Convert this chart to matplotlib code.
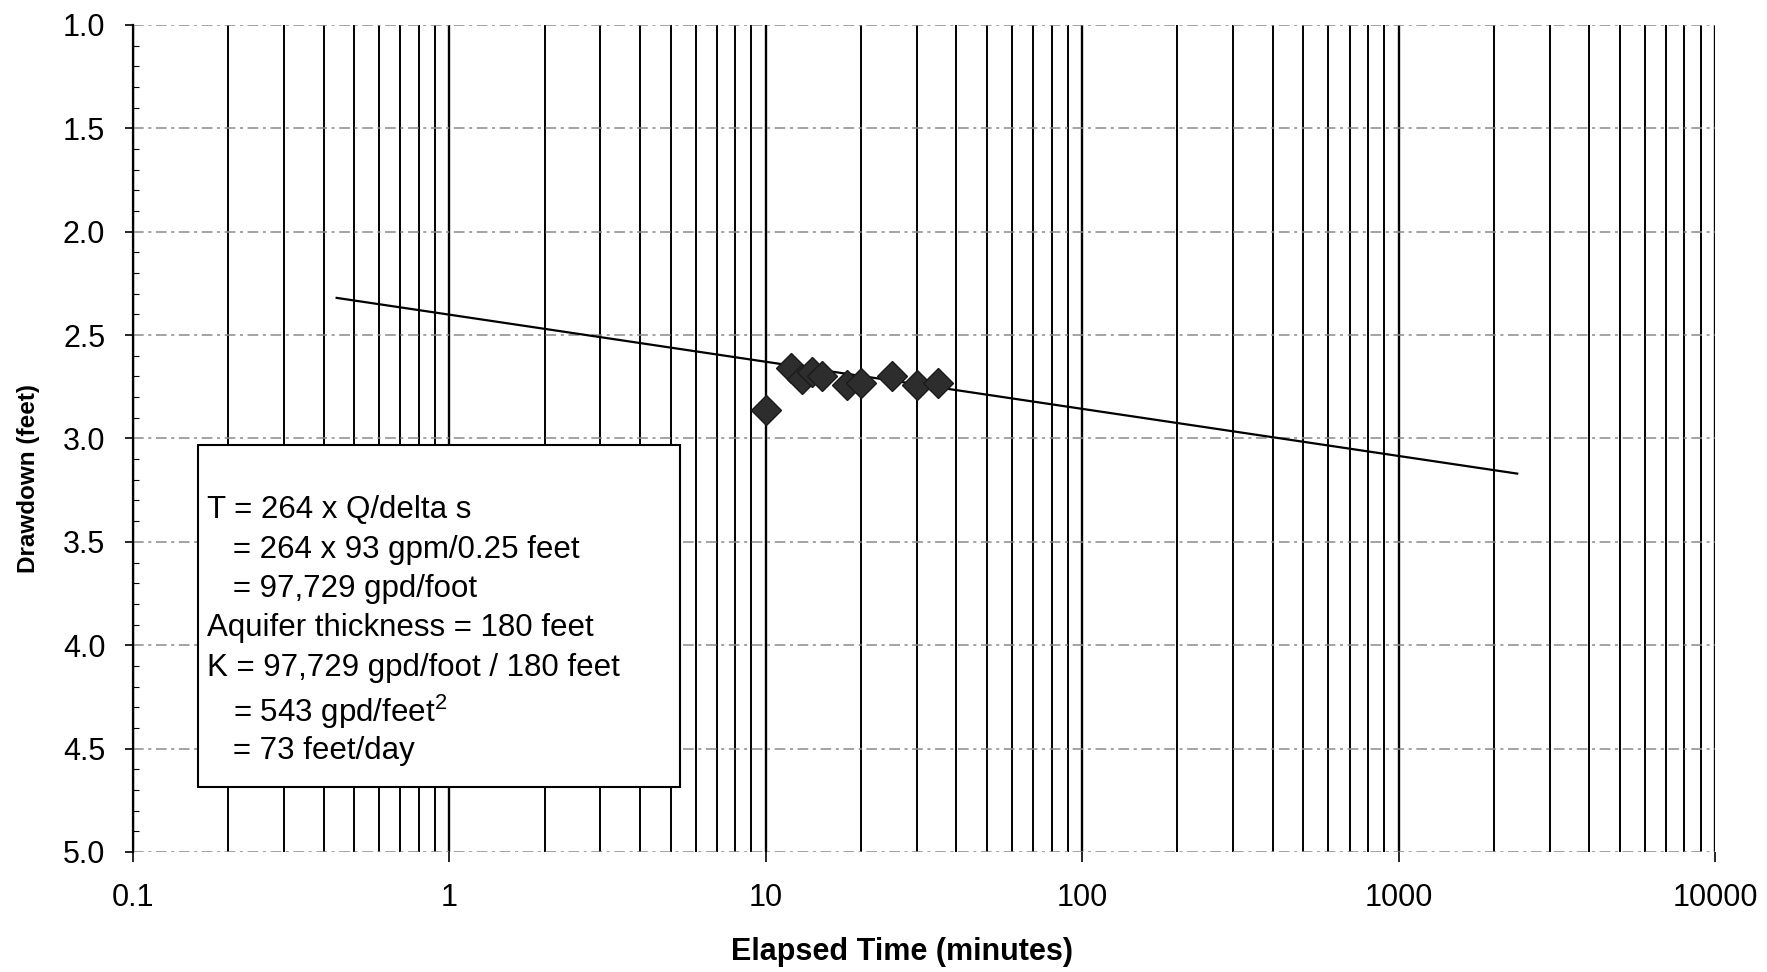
import numpy as np
import matplotlib.pyplot as plt
from matplotlib.patches import Rectangle
from matplotlib.ticker import FormatStrFormatter, MultipleLocator, LogLocator

plt.rcParams['font.family'] = ['Liberation Sans', 'DejaVu Sans']
plt.rcParams['mathtext.fontset'] = 'custom'
plt.rcParams['mathtext.rm'] = 'Liberation Sans'

# --- veri ---
elapsed_min = [10, 12, 13, 14, 15, 18, 20, 25, 30, 35]
drawdown_ft = [2.86, 2.66, 2.71, 2.68, 2.70, 2.74, 2.73, 2.70, 2.74, 2.73]

# egim dogrusu (uc noktalar)
fit_t = [0.44, 2370]
fit_s = [2.32, 3.17]

x_ticks = [0.1, 1, 10, 100, 1000, 10000]
x_labels = ['0.1', '1', '10', '100', '1000', '10000']

note_lines = [
    'T = 264 x Q/delta s',
    '   = 264 x 93 gpm/0.25 feet',
    '   = 97,729 gpd/foot',
    'Aquifer thickness = 180 feet',
    'K = 97,729 gpd/foot / 180 feet',
    '   = 543 gpd/feet$^2$',
    '   = 73 feet/day',
]

fig = plt.figure(figsize=(17.67, 9.72), dpi=100)
ax = fig.add_axes([0.0753, 0.1235, 0.8953, 0.8508])

ax.set_xscale('log')
ax.set_xlim(0.1, 10000)
ax.set_ylim(5.0, 1.0)

# dikey cizgiler: tum log cizgileri siyah
ax.xaxis.set_minor_locator(LogLocator(base=10, subs=np.arange(2, 10)))
ax.grid(which='major', axis='x', color='black', lw=1.7, zorder=0.5)
ax.grid(which='minor', axis='x', color='black', lw=1.4, zorder=0.5)
# yatay cizgiler: kesikli gri
ax.yaxis.set_major_locator(MultipleLocator(0.5))
ax.yaxis.set_minor_locator(MultipleLocator(0.1))
ax.grid(which='major', axis='y', color='#8a8a8a', lw=1.1,
        linestyle=(0, (7, 3, 2, 3)), zorder=0.5)
ax.set_axisbelow(True)

ax.set_xticks(x_ticks, x_labels)
ax.tick_params(axis='x', which='minor', length=0)
ax.tick_params(axis='x', which='major', length=7, width=1.2, pad=15, labelsize=22)
ax.tick_params(axis='y', which='major', length=6, width=1.2, pad=14, labelsize=22)
ax.tick_params(axis='y', which='minor', direction='in', length=4, width=0.8)
ax.yaxis.set_major_formatter(FormatStrFormatter('%.1f'))

for side in ['top', 'right', 'bottom']:
    ax.spines[side].set_visible(False)
ax.spines['left'].set_linewidth(1.6)

ax.plot(fit_t, fit_s, color='black', lw=1.6, zorder=2)
ax.plot(elapsed_min, drawdown_ft, linestyle='none', marker='D', markersize=15,
        color='#2d2d2d', markeredgecolor='#1a1a1a', zorder=3)

ax.set_xlabel('Elapsed Time (minutes)', fontsize=22, fontweight='bold', va='center')
ax.set_ylabel('Drawdown (feet)', fontsize=17.5, fontweight='bold', va='center')
ax.xaxis.set_label_coords(0.486, -0.121)
ax.yaxis.set_label_coords(-0.066, 0.452)

# aciklama kutusu
box = Rectangle((0.041, 0.079), 0.305, 0.413, transform=ax.transAxes,
                facecolor='white', edgecolor='black', lw=1.5, zorder=3)
ax.add_patch(box)
y0 = 0.413
for i, line in enumerate(note_lines):
    extra = 0.006 if i >= 5 else 0.0
    ax.text(0.047, y0 - i * 0.0475 - extra, line, transform=ax.transAxes,
            fontsize=22.5, va='center', ha='left', zorder=4)

plt.savefig('out.png', dpi=100)
